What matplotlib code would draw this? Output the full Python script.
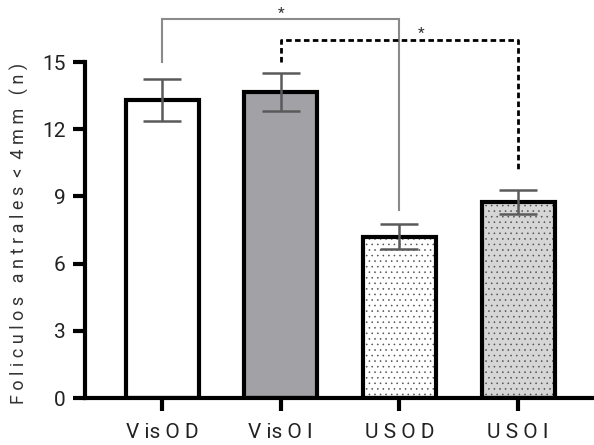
import matplotlib
matplotlib.use("Agg")
import matplotlib.pyplot as plt
import numpy as np

categories = ["V is O D", "V is O I", "U S O D", "U S O I"]
means = [13.3, 13.65, 7.2, 8.75]
errors = [0.95, 0.85, 0.55, 0.55]
yticks = [0, 3, 6, 9, 12, 15]
ylabel = "F o l i c u l o s   a n t r a l e s  <  4 m m   ( n )"

facecolors = ["white", "#a2a1a6", "white", "#d6d6d6"]
hatches = [None, None, "...", "..."]

plt.rcParams['font.family'] = ['Roboto', 'DejaVu Sans']
plt.rcParams['hatch.linewidth'] = 0.4

fig = plt.figure(figsize=(5.94, 4.45), dpi=100)
ax = fig.add_axes([85/594, 1-398/445, (594-85)/594, (398-62)/445])

x = np.arange(len(categories))
w = 0.615
for i in range(len(categories)):
    ax.bar(x[i], means[i], width=w, color=facecolors[i], hatch=hatches[i],
           edgecolor="#505050", linewidth=0, zorder=2)
ax.bar(x, means, width=w, facecolor="none", edgecolor="black", linewidth=3, zorder=3)
ax.errorbar(x, means, yerr=errors, fmt="none", ecolor="#5a5a5a", elinewidth=1.8,
            capsize=14, capthick=1.8, zorder=4)

ax.set_xlim(-0.65, 3.64)
ax.set_ylim(0, 15)
ax.set_yticks(yticks)
ax.set_xticks(x)
ax.set_xticklabels(categories)
ax.spines['top'].set_visible(False)
ax.spines['right'].set_visible(False)
ax.spines['left'].set_linewidth(3)
ax.spines['bottom'].set_linewidth(3)
ax.spines['left'].set_bounds(0, 15)
ax.tick_params(axis='y', length=9, width=3, labelsize=15, pad=5, colors='black', labelcolor='#222222')
ax.tick_params(axis='x', length=9, width=3, labelsize=15, pad=9, colors='black', labelcolor='#222222')

# significance brackets
ax.plot([0, 0, 2, 2], [15.0, 16.9, 16.9, 8.4], color="#8a8a8a", lw=1.5,
        clip_on=False, zorder=5, solid_joinstyle='miter')
ax.text(1.0, 16.85, "*", ha="center", va="bottom", fontsize=11, color="#333333")
ax.plot([1, 1, 3, 3], [15.0, 16.0, 16.0, 10.1], color="black", lw=2,
        linestyle=(0, (2, 1.2)), clip_on=False, zorder=5)
ax.text(2.18, 15.95, "*", ha="center", va="bottom", fontsize=11, color="#333333")

fig.text(19/594, 1-233/445, ylabel, rotation=90, ha="center", va="center",
         fontsize=13, color="#333333")

fig.savefig("out.png", dpi=100)
